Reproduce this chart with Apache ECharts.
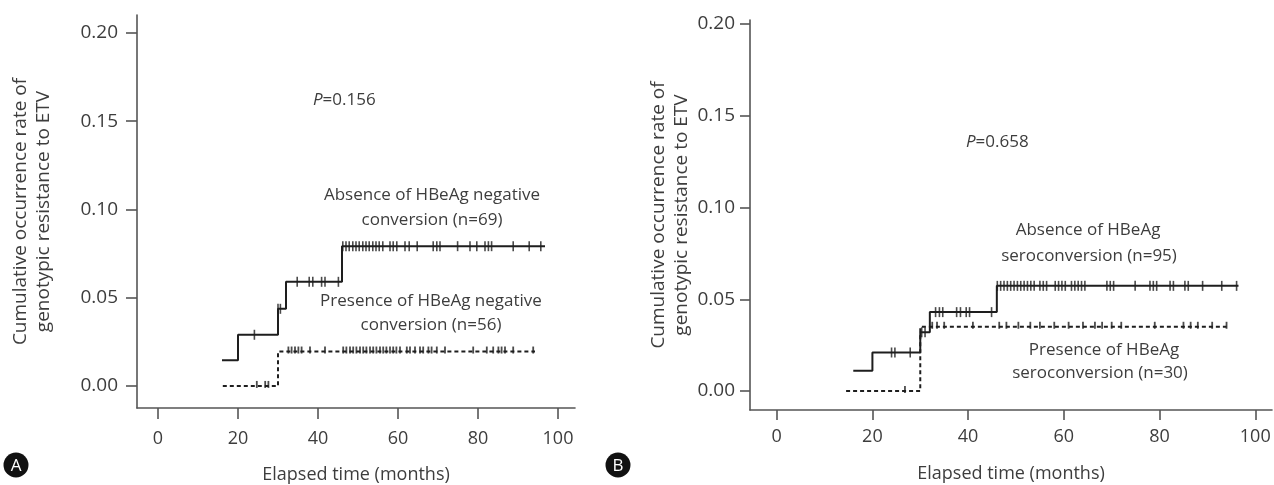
<!DOCTYPE html>
<html>
<head>
<meta charset="utf-8">
<script src="https://cdn.jsdelivr.net/npm/echarts@6/dist/echarts.min.js"></script>
<style>
html,body{margin:0;padding:0;background:#fff;}
#chart{width:1274px;height:485px;}
</style>
</head>
<body>
<div id="chart"></div>
<script>
// ---------- data ----------
const xTicks = [0, 20, 40, 60, 80, 100];
const yTicks = [0, 0.05, 0.10, 0.15, 0.20];

// Panel A: step points [month, cumulative rate]
const aAbsenceSteps = [[16, 0.0145], [20, 0.029], [30, 0.0437], [32, 0.059], [46, 0.0792], [96.75, 0.0792]];
const aAbsenceCensor = [24.1, 30.0, 30.6, 34.8, 37.8, 38.7, 40.9, 41.75, 45.1, 46.2, 47, 47.8, 48.7, 49.5, 50.3, 51.2, 52, 52.8, 53.7, 54.5, 55.3, 56.2, 58, 58.8, 59.7, 61.75, 62.8, 64.8, 68.8, 69.7, 70.5, 74.9, 78, 79.7, 81.75, 82.6, 83.4, 88.8, 92.8, 95.7];
const aPresenceSteps = [[16.2, 0], [30, 0.0195], [94.25, 0.0195]];
const aPresenceCensor = [24.7, 26.8, 27.6, 32.6, 33.4, 34.25, 35.1, 35.9, 38, 41.75, 46.3, 47.1, 48, 48.8, 49.6, 50.5, 51.3, 52.1, 53, 53.8, 54.6, 55.5, 56.3, 57.1, 58, 58.8, 59.6, 60.5, 62.2, 63, 64.25, 65.5, 66.3, 67.6, 68.4, 69.7, 71.75, 78.8, 82.2, 83.8, 85.1, 85.9, 86.75, 88.8, 93.8];

// Panel B
const bAbsenceSteps = [[16, 0.011], [20, 0.021], [30, 0.032], [32, 0.043], [46, 0.0573], [96.5, 0.0573]];
const bAbsenceCensor = [24, 24.7, 27.9, 30.3, 31, 33.2, 34.0, 34.7, 37.6, 38.4, 39.6, 40.3, 44.9, 46.1, 46.8, 47.5, 48.2, 48.9, 49.6, 50.3, 51.0, 51.7, 52.4, 53.1, 53.8, 55.0, 55.7, 56.4, 58.2, 58.9, 59.6, 60.3, 61.6, 62.3, 63.0, 63.7, 64.4, 69.0, 69.7, 70.4, 74.9, 78.0, 78.7, 79.4, 82.2, 82.9, 85.3, 86.0, 89.0, 93.0, 96.1];
const bPresenceSteps = [[14.5, 0], [30, 0.035], [94, 0.035]];
const bPresenceCensor = [26.8, 32.5, 33.5, 35, 41, 46.5, 48, 50.5, 53, 55, 58, 61, 64, 66.5, 68, 70, 72, 79, 85, 86.5, 88, 91, 94];

const pValueA = '0.156';
const pValueB = '0.658';
const xName = 'Elapsed time (months)';
const yName = 'Cumulative occurrence rate of\ngenotypic resistance to ETV';

// ---------- helpers ----------
function levelAt(steps, t) {
  let v = steps[0][1];
  for (const s of steps) { if (s[0] <= t + 1e-9) v = s[1]; }
  return v;
}
function censorPoints(steps, xs) { return xs.map(t => [t, levelAt(steps, t)]); }

const FONT = '"Open Sans", "Noto Sans", sans-serif';
const TXT = '#3d3d3d';
const AX = '#555';

function xAxisCfg(gi, min, max, margin, gap, tickLen) {
  return {
    type: 'value', gridIndex: gi, min: min, max: max,
    axisLine: { show: true, onZero: false, lineStyle: { color: AX, width: 1.6 } },
    axisTick: { show: true, customValues: xTicks, length: tickLen, lineStyle: { color: AX, width: 1.6 } },
    axisLabel: { customValues: xTicks, margin: margin, color: TXT, fontSize: 18, fontFamily: FONT, formatter: v => String(Math.round(v)) },
    splitLine: { show: false },
    name: xName, nameLocation: 'middle', nameGap: gap,
    nameTextStyle: { color: TXT, fontSize: 18, fontFamily: FONT }
  };
}
function yAxisCfg(gi, min, max, margin, gap, tickLen) {
  return {
    type: 'value', gridIndex: gi, min: min, max: max,
    axisLine: { show: true, onZero: false, lineStyle: { color: AX, width: 1.6 } },
    axisTick: { show: true, customValues: yTicks, length: tickLen, lineStyle: { color: AX, width: 1.6 } },
    axisLabel: { customValues: yTicks, margin: margin, color: TXT, fontSize: 19, fontFamily: FONT, formatter: v => v.toFixed(2) },
    splitLine: { show: false },
    name: yName, nameLocation: 'middle', nameGap: gap, nameRotate: 90,
    nameTextStyle: { color: TXT, fontSize: 19, fontFamily: FONT, lineHeight: 23, align: 'center' }
  };
}
function stepLine(idx, data, dashed) {
  return {
    type: 'line', xAxisIndex: idx, yAxisIndex: idx, data: data, step: 'end',
    showSymbol: false, symbol: 'none', silent: true, animation: false,
    lineStyle: { color: '#1e1e1e', width: 2, type: dashed ? [4, 3] : 'solid' }
  };
}
function censor(idx, data, small) {
  return {
    type: 'scatter', xAxisIndex: idx, yAxisIndex: idx, data: data,
    symbol: 'rect', symbolSize: small ? [1.8, 7] : [1.6, 10],
    symbolOffset: small ? [0, -1.5] : [0, 0],
    itemStyle: { color: '#1e1e1e' }, silent: true, animation: false
  };
}
function label(x, y, text) {
  return { type: 'text', x: x, y: y, style: { text: text, fill: TXT, font: '17px ' + FONT, textAlign: 'center', textVerticalAlign: 'middle' } };
}
function pText(x, y, val) {
  return { type: 'text', x: x, y: y, style: {
    text: '{i|P}=' + val, fill: TXT, font: '17px ' + FONT, textVerticalAlign: 'middle',
    rich: { i: { fontStyle: 'italic', fontSize: 17, fontFamily: FONT, fill: TXT } } } };
}
function badge(cx, cy, letter) {
  return { type: 'group', children: [
    { type: 'circle', shape: { cx: cx, cy: cy, r: 12.5 }, style: { fill: '#111' } },
    { type: 'text', x: cx, y: cy + 1, style: { text: letter, fill: '#fff', font: '17px ' + FONT, textAlign: 'center', textVerticalAlign: 'middle' } }
  ] };
}

const chart = echarts.init(document.getElementById('chart'), null, { renderer: 'canvas' });
chart.setOption({
  backgroundColor: '#fff',
  animation: false,
  grid: [
    { left: 137, top: 15, width: 438, height: 393, containLabel: false, outerBoundsMode: 'none' },
    { left: 750, top: 20, width: 522, height: 390, containLabel: false, outerBoundsMode: 'none' }
  ],
  xAxis: [
    xAxisCfg(0, -5.25, 104.25, 22, 58, 11),
    xAxisCfg(1, -5.58, 103.5, 18, 55, 10)
  ],
  yAxis: [
    yAxisCfg(0, -0.0125, 0.2102, 19, 82, 11),
    yAxisCfg(1, -0.01035, 0.2022, 15, 24, 10)
  ],
  series: [
    stepLine(0, aAbsenceSteps, false),
    stepLine(0, aPresenceSteps, true),
    censor(0, censorPoints(aAbsenceSteps, aAbsenceCensor), false),
    censor(0, censorPoints(aPresenceSteps, aPresenceCensor), true),
    stepLine(1, bAbsenceSteps, false),
    stepLine(1, bPresenceSteps, true),
    censor(1, censorPoints(bAbsenceSteps, bAbsenceCensor), false),
    censor(1, censorPoints(bPresenceSteps, bPresenceCensor), true)
  ],
  graphic: [
    pText(313, 100, pValueA),
    pText(966, 142, pValueB),
    label(432, 195, 'Absence of HBeAg negative'),
    label(432, 220, 'conversion (n=69)'),
    label(431, 301, 'Presence of HBeAg negative'),
    label(431, 325, 'conversion (n=56)'),
    label(1088, 230, 'Absence of HBeAg'),
    label(1089, 256, 'seroconversion (n=95)'),
    label(1104, 350, 'Presence of HBeAg'),
    label(1100, 373, 'seroconversion (n=30)'),
    badge(16, 465, 'A'),
    badge(618, 465, 'B')
  ]
});
</script>
</body>
</html>
